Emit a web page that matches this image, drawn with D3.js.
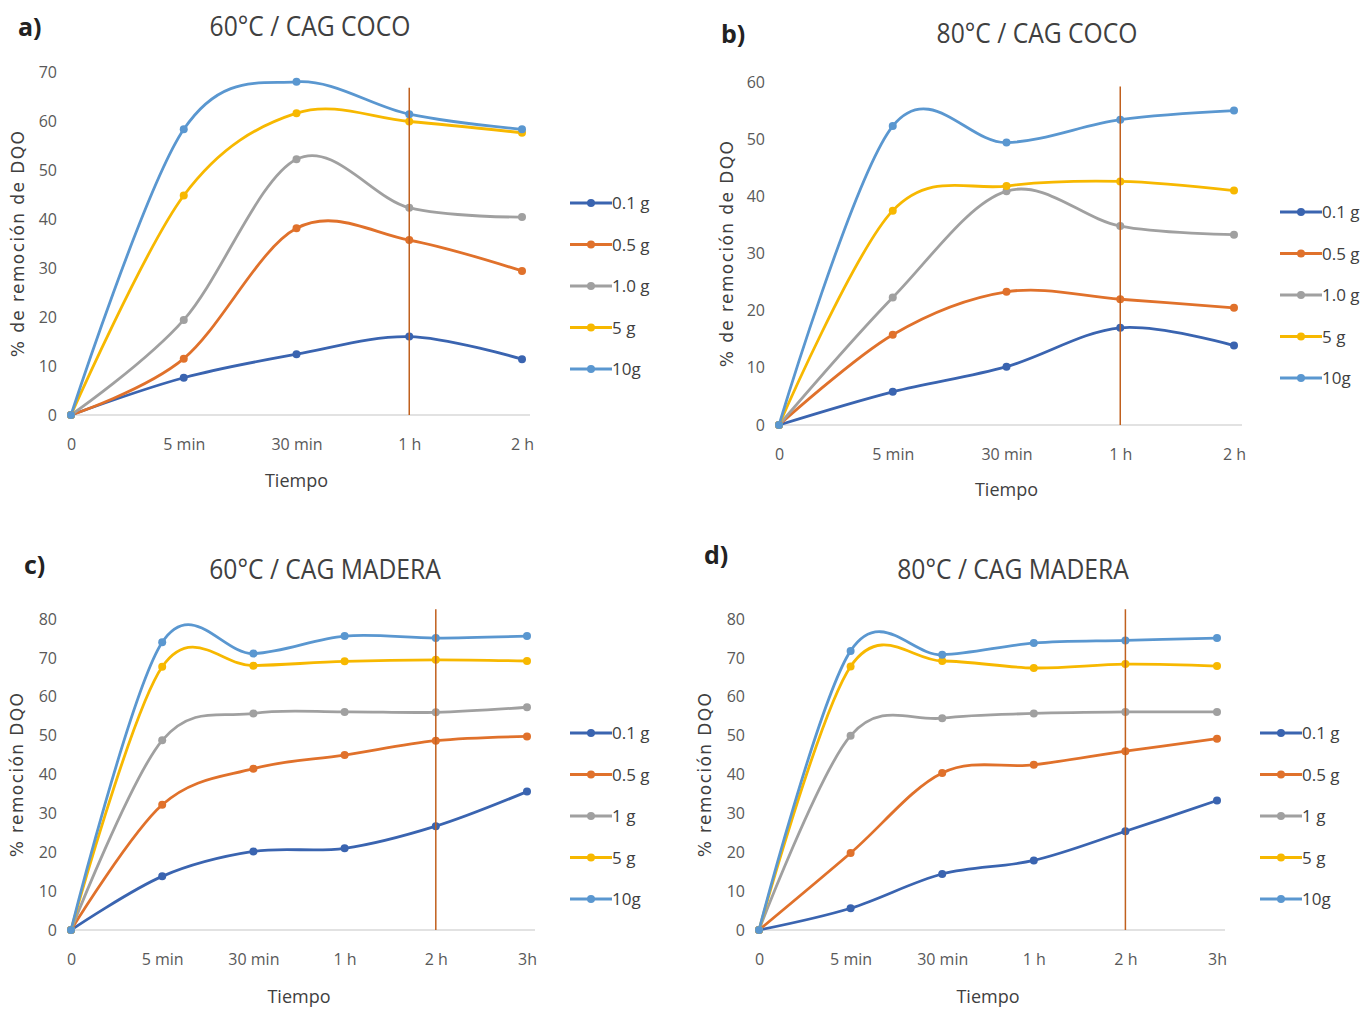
<!DOCTYPE html>
<html lang="es">
  <head>
    <meta charset="UTF-8" />
    <title>Remoción de DQO</title>
    <style>
      body { margin: 0; background: #fff; }
      .cond { font-family: "Liberation Sans Narrow", "Arial Narrow", "Open Sans", sans-serif; }
      .ytitle { font-family: "DejaVu Sans", sans-serif; }
    </style>
  </head>
  <body>
    <svg id="chart" width="1363" height="1009"></svg>

    <script src="https://d3js.org/d3.v7.min.js"></script>
    <script>
      // categorias del eje x
      const catsCoco = ["0", "5 min", "30 min", "1 h", "2 h"];
      const catsMadera = ["0", "5 min", "30 min", "1 h", "2 h", "3h"];

      // nombres de series
      const namesCoco = ["0.1 g", "0.5 g", "1.0 g", "5 g", "10g"];
      const namesMadera = ["0.1 g", "0.5 g", "1 g", "5 g", "10g"];
      const colors = ["#3a64b0", "#e0712b", "#a0a0a0", "#f7b800", "#5a97d0"];

      // a) 60°C / CAG COCO
      const coco60 = [
        [0, 7.6, 12.4, 16, 11.4],
        [0, 11.5, 38.1, 35.7, 29.4],
        [0, 19.4, 52.2, 42.3, 40.4],
        [0, 44.8, 61.6, 59.9, 57.6],
        [0, 58.3, 68, 61.4, 58.3]
      ];
      // b) 80°C / CAG COCO
      const coco80 = [
        [0, 5.8, 10.2, 17, 13.9],
        [0, 15.8, 23.3, 22, 20.5],
        [0, 22.3, 40.9, 34.8, 33.3],
        [0, 37.5, 41.8, 42.6, 41],
        [0, 52.3, 49.4, 53.4, 55]
      ];
      // c) 60°C / CAG MADERA
      const madera60 = [
        [0, 13.8, 20.2, 21, 26.7, 35.6],
        [0, 32.2, 41.5, 45, 48.7, 49.8],
        [0, 48.8, 55.7, 56.1, 56, 57.3],
        [0, 67.7, 68, 69.1, 69.5, 69.2],
        [0, 74, 71.1, 75.6, 75.1, 75.6]
      ];
      // d) 80°C / CAG MADERA
      const madera80 = [
        [0, 5.6, 14.4, 17.9, 25.4, 33.3],
        [0, 19.8, 40.4, 42.5, 46, 49.2],
        [0, 50, 54.5, 55.7, 56.1, 56.1],
        [0, 67.8, 69.2, 67.4, 68.4, 67.9],
        [0, 71.8, 70.8, 73.8, 74.5, 75.1]
      ];

      const panels = [
        { tag: "a)", title: "60°C / CAG COCO", cats: catsCoco, names: namesCoco, data: coco60,
          yMax: 70, mark: "1 h", markTop: 66.8, ytitle: "% de remoción de DQO",
          x0: 71, x1: 522, y0: 415, y1: 72, tagX: 18, tagY: 36, titleX: 310, titleY: 36,
          legX: 570, legY: 203, yTitleX: 24, xTitleY: 487 },
        { tag: "b)", title: "80°C / CAG COCO", cats: catsCoco, names: namesCoco, data: coco80,
          yMax: 60, mark: "1 h", markTop: 59.2, ytitle: "% de remoción de DQO",
          x0: 779, x1: 1234, y0: 425, y1: 82, tagX: 721, tagY: 43, titleX: 1037, titleY: 43,
          legX: 1280, legY: 212, yTitleX: 733, xTitleY: 496 },
        { tag: "c)", title: "60°C / CAG MADERA", cats: catsMadera, names: namesMadera, data: madera60,
          yMax: 80, mark: "2 h", markTop: 82.5, ytitle: "% remoción DQO",
          x0: 71, x1: 527, y0: 930, y1: 619, tagX: 24, tagY: 574, titleX: 325, titleY: 579,
          legX: 570, legY: 733, yTitleX: 23, xTitleY: 1003 },
        { tag: "d)", title: "80°C / CAG MADERA", cats: catsMadera, names: namesMadera, data: madera80,
          yMax: 80, mark: "2 h", markTop: 82.5, ytitle: "% remoción DQO",
          x0: 759, x1: 1217, y0: 930, y1: 619, tagX: 704, tagY: 564, titleX: 1013, titleY: 579,
          legX: 1260, legY: 733, yTitleX: 711, xTitleY: 1003 }
      ];

      const svg = d3.select("#chart");

      panels.forEach(p => {
        const g = svg.append("g");
        const x = d3.scalePoint().domain(p.cats).range([p.x0, p.x1]);
        const y = d3.scaleLinear().domain([0, p.yMax]).range([p.y0, p.y1]);

        // titulo y letra
        g.append("text").attr("class", "cond")
          .attr("x", p.tagX).attr("y", p.tagY)
          .attr("font-size", 25).attr("font-weight", "bold").attr("fill", "#222")
          .text(p.tag);
        g.append("text").attr("class", "cond")
          .attr("transform", `translate(${p.titleX},${p.titleY}) scale(0.88,1)`)
          .attr("text-anchor", "middle").attr("font-size", 28).attr("fill", "#404040")
          .text(p.title);

        // eje y (solo etiquetas)
        const yAxis = g.append("g")
          .attr("transform", `translate(${p.x0 - 14},0)`)
          .call(d3.axisLeft(y).ticks(p.yMax / 10).tickSize(0).tickPadding(0));
        yAxis.select(".domain").remove();
        yAxis.selectAll("text").attr("class", "cond")
          .attr("font-size", 16).attr("fill", "#595959");

        // eje x
        const xAxis = g.append("g")
          .attr("transform", `translate(0,${p.y0})`)
          .call(d3.axisBottom(x).tickSize(0).tickPadding(24));
        xAxis.select(".domain").attr("stroke", "#d9d9d9").attr("stroke-width", 1.5)
          .attr("d", `M${p.x0},0H${p.x1 + 8}`);
        xAxis.selectAll("text").attr("class", "cond")
          .attr("font-size", 16).attr("fill", "#595959");

        g.append("text").attr("class", "cond")
          .attr("x", (p.x0 + p.x1) / 2).attr("y", p.xTitleY)
          .attr("text-anchor", "middle").attr("font-size", 18).attr("fill", "#404040")
          .text("Tiempo");

        g.append("text").attr("class", "ytitle")
          .attr("transform", `translate(${p.yTitleX},${(p.y0 + p.y1) / 2}) rotate(-90)`)
          .attr("text-anchor", "middle").attr("font-size", 17)
          .attr("letter-spacing", 1.4).attr("fill", "#404040")
          .text(p.ytitle);

        // lineas suavizadas
        const line = d3.line()
          .x((d, i) => x(p.cats[i]))
          .y(d => y(d))
          .curve(d3.curveCardinal.tension(0));

        p.data.forEach((vals, k) => {
          g.append("path")
            .attr("d", line(vals))
            .attr("fill", "none")
            .attr("stroke", colors[k])
            .attr("stroke-width", 2.8);
        });
        p.data.forEach((vals, k) => {
          g.selectAll(null)
            .data(vals)
            .enter()
            .append("circle")
            .attr("cx", (d, i) => x(p.cats[i]))
            .attr("cy", d => y(d))
            .attr("r", 4)
            .attr("fill", colors[k]);
        });

        // linea vertical de referencia
        g.append("line")
          .attr("x1", x(p.mark)).attr("x2", x(p.mark))
          .attr("y1", y(p.markTop)).attr("y2", y(0))
          .attr("stroke", "#c0601e").attr("stroke-width", 1.5);

        // leyenda
        const leg = g.selectAll(".leg")
          .data(p.names)
          .enter()
          .append("g")
          .attr("transform", (d, i) => `translate(${p.legX},${p.legY + i * 41.5})`);
        leg.append("line")
          .attr("x1", 0).attr("x2", 42)
          .attr("stroke", (d, i) => colors[i]).attr("stroke-width", 2.8);
        leg.append("circle")
          .attr("cx", 21).attr("r", 4)
          .attr("fill", (d, i) => colors[i]);
        leg.append("text").attr("class", "cond")
          .attr("x", 42).attr("y", 6)
          .attr("font-size", 17).attr("fill", "#404040")
          .text(d => d);
      });
    </script>
  </body>
</html>
